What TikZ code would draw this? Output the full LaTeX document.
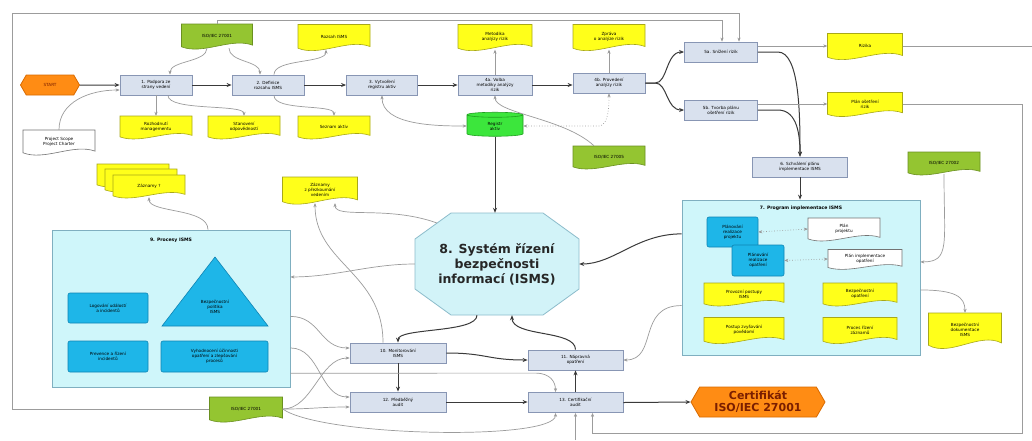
\documentclass[tikz,border=0pt]{standalone}
\usepackage{fontspec}
\setmainfont{DejaVu Sans}
\usetikzlibrary{shapes.geometric,shapes.symbols,shapes.misc,arrows.meta,calc}
\definecolor{procfill}{HTML}{D9E1EE}
\definecolor{procline}{HTML}{8896B4}
\definecolor{yfill}{HTML}{FFFF1A}
\definecolor{yline}{HTML}{A8A818}
\definecolor{gfill}{HTML}{94C531}
\definecolor{gline}{HTML}{6A9020}
\definecolor{cylfill}{HTML}{3CE63C}
\definecolor{cylline}{HTML}{1F9F1F}
\definecolor{orfill}{HTML}{FF8C14}
\definecolor{orline}{HTML}{D86A00}
\definecolor{contfill}{HTML}{CFF6FA}
\definecolor{contline}{HTML}{7FAFC0}
\definecolor{bluefill}{HTML}{1EB6E8}
\definecolor{blueline}{HTML}{0E84B4}
\definecolor{octfill}{HTML}{D2F3F8}
\definecolor{octline}{HTML}{8CBCCB}
\definecolor{flowc}{HTML}{3A3A3A}
\definecolor{linkc}{HTML}{9C9C9C}
\definecolor{certc}{HTML}{7A1E00}
\newcommand\docshape[7]{%
  \path[#6] ({#2-#4/2},{#3-#5/2}) -- ({#2+#4/2},{#3-#5/2}) -- ({#2+#4/2},{#3+#5/2-0.12*#5})
    .. controls ({#2+#4/2-0.3*#4},{#3+#5/2-0.45*#5}) and ({#2-#4/2+0.3*#4},{#3+#5/2+0.3*#5}) .. ({#2-#4/2},{#3+#5/2-0.05*#5}) -- cycle;
  \node[doctext, minimum width=#4pt, minimum height=#5pt] (#1) at (#2,#3) {#7};}
\begin{document}
\begin{tikzpicture}[x=1pt,y=-1pt,
  tiny/.style={font=\fontsize{4.2}{4.9}\selectfont},
  proc/.style={tiny, draw=procline, fill=procfill, line width=0.8pt, minimum width=72pt, minimum height=20pt, inner sep=1pt, align=center},
  doctext/.style={tiny, inner sep=1pt, align=center},
  ydoc/.style={draw=yline, fill=yfill, line width=0.6pt},
  gdoc/.style={draw=gline, fill=gfill, line width=0.6pt},
  wdoc/.style={draw=black!55, fill=white, line width=0.6pt},
  container/.style={draw=contline, fill=contfill, line width=0.8pt, inner sep=0pt},
  bluebox/.style={tiny, draw=blueline, fill=bluefill, line width=0.6pt, rounded corners=2pt, align=center, inner sep=1pt},
  flowline/.style={draw=flowc, line width=1pt, -{Stealth[length=5pt,width=4pt]}},
  linkline/.style={draw=linkc, line width=0.7pt, -{Stealth[length=4pt,width=3.2pt,fill=flowc]}},
  bothline/.style={draw=linkc, line width=0.7pt, {Stealth[length=4pt,width=3.2pt,fill=flowc]}-{Stealth[length=4pt,width=3.2pt,fill=flowc]}},
  hexa/.style={signal, signal to=west and east, signal pointer angle=120, fill=orfill, draw=orline, line width=0.8pt, align=center, inner sep=1pt}
]
\useasboundingbox (0,0) rectangle (1032,440);
\fill[white] (0,0) rectangle (1032,440);

% containers
\node[container, minimum width=238pt, minimum height=157pt] (proc9) at (171,308.5) {};
\node[tiny, font=\fontsize{4.6}{5}\selectfont\bfseries] (t9) at (171,240) {9. Procesy ISMS};
\node[container, minimum width=238pt, minimum height=155pt] (prog7) at (801,277.5) {};
\node[tiny, font=\fontsize{4.6}{5}\selectfont\bfseries] (t7) at (801,208) {7. Program implementace ISMS};

% start / process boxes
\node[hexa, minimum width=59pt, minimum height=20pt, tiny, text=certc] (start) at (50,85) {START};
\node[proc] (p1) at (156,85) {1. Podpora ze\\strany vedení};
\node[proc] (p2) at (268,85) {2. Definice\\rozsahu ISMS};
\node[proc, minimum width=71pt] (p3) at (382,85) {3. Vytvoření\\registru aktiv};
\node[proc, minimum width=74pt] (p4a) at (495,85) {4a. Volba\\metodiky analýzy\\rizik};
\node[proc] (p4b) at (609,83) {4b. Provedení\\analýzy rizik};
\node[proc, minimum width=73pt] (p5a) at (721,52) {5a. Snížení rizik};
\node[proc, minimum width=73pt] (p5b) at (721,110) {5b. Tvorba plánu\\ošetření rizik};
\node[proc, minimum width=95pt] (p6) at (800,167) {6. Schválení plánu\\implementace ISMS};
\node[proc, minimum width=96pt] (p10) at (398,353) {10. Monitorování\\ISMS};
\node[proc, minimum width=96pt] (p12) at (398,402) {12. Předběžný\\audit};
\node[proc, minimum width=95pt] (p11) at (575.5,360) {11. Nápravná\\opatření};
\node[proc, minimum width=95pt] (p13) at (575.5,402.5) {13. Certifikační\\audit};

% documents
\docshape{rozsah}{334}{37}{72}{25}{ydoc}{Rozsah ISMS}
\docshape{metod}{495}{37}{74}{25}{ydoc}{Metodika\\analýzy rizik}
\docshape{zprava}{609}{37}{72}{25}{ydoc}{Zpráva\\o analýze rizik}
\docshape{rizika}{865}{46}{75}{25}{ydoc}{Rizika}
\docshape{planr}{865}{104}{75}{23}{ydoc}{Plán ošetření\\rizik}
\docshape{d1}{156}{127}{72}{22}{ydoc}{Rozhodnutí\\managementu}
\docshape{d2}{244}{127}{72}{22}{ydoc}{Stanovení\\odpovědností}
\docshape{d3}{334}{127}{72}{22}{ydoc}{Seznam aktiv}
\docshape{wproj}{59}{142}{72}{24}{wdoc}{Project Scope\\Project Charter}
\docshape{g1}{217}{36}{71}{24}{gdoc}{ISO/IEC 27001}
\docshape{g5}{609}{157}{72}{22}{gdoc}{ISO/IEC 27005}
\docshape{g2}{944}{163}{72}{22}{gdoc}{ISO/IEC 27002}
\docshape{gbl}{246}{409}{73}{24}{gdoc}{ISO/IEC 27001}
\docshape{stA}{133}{175}{72}{22}{ydoc}{}
\docshape{stB}{141}{180}{72}{22}{ydoc}{}
\docshape{stack}{149}{186}{72}{22}{ydoc}{Záznamy ?}
\docshape{zaz}{320}{190}{75}{26}{ydoc}{Záznamy\\z přezkoumání\\vedením}

% inside 9
\path[draw=blueline, fill=bluefill, line width=0.6pt] (215,257) -- (268,326) -- (162,326) -- cycle;
\node[tiny, align=center] (tri) at (215,307) {Bezpečnostní\\politika\\ISMS};
\node[bluebox, minimum width=80pt, minimum height=30pt] (b9a) at (108,308) {Logování událostí\\a incidentů};
\node[bluebox, minimum width=80pt, minimum height=31pt] (b9b) at (108,356.5) {Prevence a řízení\\incidentů};
\node[bluebox, minimum width=107pt, minimum height=31pt] (b9c) at (214.5,356.5) {Vyhodnocení účinnosti\\opatření a zlepšování\\procesů};

% inside 7
\node[bluebox, minimum width=51pt, minimum height=30pt] (b7a) at (732.5,232) {Plánování\\realizace\\projektu};
\node[bluebox, minimum width=52pt, minimum height=31pt] (b7b) at (758,260.5) {Plánování\\realizace\\opatření};
\docshape{wp1}{844}{229}{72}{22}{wdoc}{Plán\\projektu}
\docshape{wp2}{865}{259}{74}{19}{wdoc}{Plán implementace\\opatření}
\docshape{y7a}{744}{294}{80}{22}{ydoc}{Provozní postupy\\ISMS}
\docshape{y7b}{860}{294}{74}{22}{ydoc}{Bezpečnostní\\opatření}
\docshape{y7c}{744}{330}{80}{25}{ydoc}{Postup zvyšování\\povědomí}
\docshape{y7d}{860}{330}{74}{25}{ydoc}{Proces řízení\\záznamů}
\docshape{bdoc}{965}{330}{73}{34}{ydoc}{Bezpečnostní\\dokumentace\\ISMS}

% cylinder, octagon, certificate
\node[cylinder, shape border rotate=90, aspect=0.3, fill=cylfill, draw=cylline, line width=0.6pt, minimum width=56pt, minimum height=24pt, tiny, align=center, inner sep=1pt] (cyl) at (495,126) {Registr\\aktiv};
\path[fill=octfill, draw=octline, line width=0.8pt] (415,239) -- (451,213) -- (543,213) -- (579,239) -- (579,289) -- (543,315) -- (451,315) -- (415,289) -- cycle;
\node[minimum width=164pt, minimum height=102pt, inner sep=0pt, font=\bfseries\fontsize{12.5}{15}\selectfont, text=black!85, align=center] (oct) at (497,264) {8. Systém řízení\\bezpečnosti\\informací (ISMS)};
\coordinate (octNW) at (437,223);
\node[hexa, minimum width=134pt, minimum height=30pt, font=\bfseries\fontsize{11}{12}\selectfont, text=certc] (cert) at (758,402) {Certifikát\\ISO/IEC 27001};

% coordinates for frame lines
\coordinate (cTL) at (12,13);
\coordinate (cT2) at (722,20);
\coordinate (cBR) at (1022,433);
\coordinate (cRE) at (1032,46);
\coordinate (cBot) at (575.5,440);

% main flow
\draw[flowline] (start) -- (p1);
\draw[flowline] (p1) -- (p2);
\draw[flowline] (p2) -- (p3);
\draw[flowline] (p3) -- (p4a);
\draw[flowline] (p4a.east) -- (p4b.west |- p4a.east);
\draw[flowline] (p4b.east) -- ++(10,0) .. controls +(12,0) and +(-18,0) .. (p5a.west);
\draw[flowline] (p4b.east) -- ++(10,0) .. controls +(12,0) and +(-18,0) .. (p5b.west);
\draw[flowline] (p5a.east) -- ++(20,0) .. controls +(22,0) and +(0,-40) .. (p6.north);
\draw[flowline] (p5b.east) -- ++(20,0) .. controls +(20,0) and +(0,-20) .. (p6.north);
\draw[flowline] (p6.south) -- (p6.south |- prog7.north);
\draw[flowline] (cyl.south) -- (cyl.south |- oct.north);
\draw[flowline] ($(prog7.north west)!0.22!(prog7.south west)$) .. controls +(-45,0) and +(35,0) .. (oct.east);
\draw[flowline] ($(oct.south)+(-20,0)$) .. controls +(0,18) and +(0,-15) .. (p10.north);
\draw[flowline] (p11.north) .. controls +(0,-20) and +(0,22) .. ($(oct.south)+(15,0)$);
\draw[flowline] (p10.east) .. controls +(40,0) and +(-40,0) .. (p11.west);
\draw[flowline] (p10.south) -- (p12.north);
\draw[flowline] (p12.east) -- (p13.west |- p12.east);
\draw[flowline] (p13.north) -- (p11.south);
\draw[flowline] (p13.east) -- (cert.west);

% secondary links
\draw[linkline] (p5a.east |- rizika.west) -- (rizika.west);
\draw[linkline] (p5b.east |- planr.west) -- (planr.west);
\draw[linkc, line width=0.7pt] (rizika.east) -- (cRE);
\draw[linkline] (planr.east) -| (cBR) -| ($(p13.south)+(17,0)$);
\draw[linkline] (gbl.west) -| (cTL) -| ($(p5a.north)+(18,0)$);
\draw[linkline] (g1.north) |- (cT2) -- (p5a.north -| cT2);
\draw[linkline] ($(g1.south)+(-10,0)$) .. controls +(0,14) and +(0,-14) .. ($(p1.north)+(14,0)$);
\draw[linkline] ($(g1.south)+(12,0)$) .. controls +(0,14) and +(0,-14) .. ($(p2.north)+(-8,0)$);
\draw[linkline] ($(p2.north)+(6,0)$) .. controls +(0,-16) and +(0,14) .. ($(rozsah.south)+(-8,0)$);
\draw[linkline] (p1.south) -- (d1.north);
\draw[linkline] ($(p1.south)+(12,0)$) .. controls +(0,16) and +(0,-12) .. (d2.north);
\draw[linkline] ($(p2.south)+(6,0)$) .. controls +(0,16) and +(0,-12) .. (d3.north);
\draw[linkline] (wproj.north) .. controls +(0,-28) and +(-30,0) .. ($(p1.west)+(0,5)$);
\draw[bothline] (p3.south) .. controls +(0,30) and +(-30,0) .. (cyl.west);
\draw[linkline] (p4a.north) -- (metod.south);
\draw[linkline] (p4b.north) -- (zprava.south);
\draw[linkline] ($(g5.north)+(-15,0)$) .. controls +(-30,-28) and +(0,18) .. (p4a.south);
\draw[bothline, dotted] (cyl.east) -- ($(cyl.east -| p4b.south)+(-10,0)$) .. controls +(10,0) and +(0,10) .. (p4b.south);
\draw[linkline] (g2.south) .. controls +(0,70) and +(30,0) .. ($(prog7.north east)!0.4!(prog7.south east)$);
\draw[linkline] ($(prog7.north east)!0.58!(prog7.south east)$) .. controls +(35,0) and +(0,-16) .. (bdoc.north);
\draw[bothline, dotted] (b7a.east) -- (wp1.west);
\draw[bothline, dotted] (b7b.east) -- (wp2.west);
\draw[linkline] (oct.west) .. controls +(-45,0) and +(45,0) .. ($(proc9.north east)!0.3!(proc9.south east)$);
\draw[linkline] ($(proc9.north)+(37,0)$) .. controls +(0,-22) and +(0,16) .. (stack.south);
\draw[linkline] (octNW) .. controls +(-50,-18) and +(0,16) .. ($(zaz.south)+(15,0)$);
\draw[linkline] ($(p10.north)+(-15,0)$) .. controls +(0,-70) and +(0,60) .. ($(zaz.south)+(-5,0)$);
\draw[linkline] ($(prog7.north west)!0.68!(prog7.south west)$) .. controls +(-45,0) and +(35,0) .. (p11.east);
\draw[linkline] ($(proc9.north east)!0.55!(proc9.south east)$) .. controls +(30,0) and +(-30,0) .. ($(p10.west)+(0,-5)$);
\draw[linkline] ($(proc9.north east)!0.75!(proc9.south east)$) .. controls +(30,0) and +(-30,0) .. ($(p12.west)+(0,-5)$);
\draw[linkline] ($(proc9.north east)!0.91!(proc9.south east)$) -- ($(p13.north)+(-40,0)+(0,-19)$) .. controls +(15,0) and +(0,-10) .. ($(p13.north)+(-20,0)$);
\draw[linkline] (gbl.east) .. controls +(30,0) and +(-30,0) .. ($(p10.west)+(0,5)$);
\draw[linkline] (gbl.east) .. controls +(30,0) and +(-30,0) .. ($(p12.west)+(0,5)$);
\draw[linkline] (gbl.east) .. controls +(40,28) and +(0,28) .. ($(p13.south)+(-20,0)$);
\draw[linkline] (cBot) -- (p13.south);
\end{tikzpicture}
\end{document}
